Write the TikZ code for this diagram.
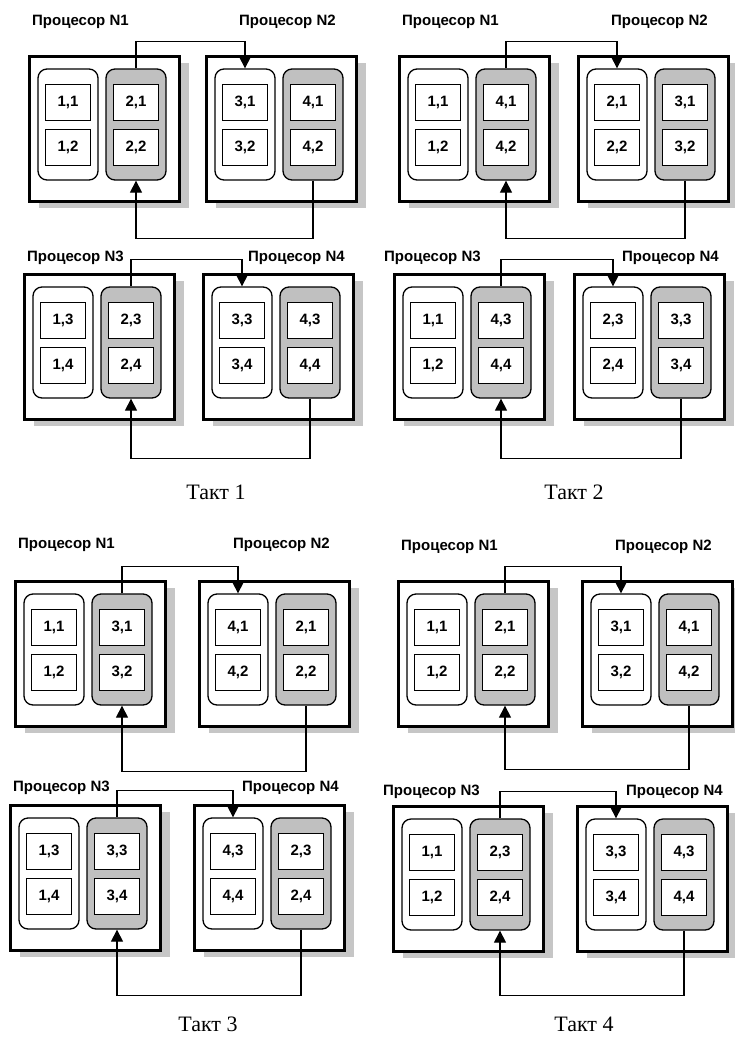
\documentclass[tikz,border=0pt]{standalone}
\usepackage{fontspec}
\setmainfont{Liberation Serif}
\setsansfont{Liberation Sans}
\usetikzlibrary{arrows.meta}
\definecolor{blockgrey}{RGB}{192,192,192}
\definecolor{shadegrey}{RGB}{198,198,198}

\begin{document}
\begin{tikzpicture}[x=1pt,y=-1pt,
proc/.style = {draw,line width=2.8pt,fill=white,anchor=north west,inner sep=0pt,
        minimum width=150pt,minimum height=145pt},
memw/.style = {draw,line width=1.3pt,fill=white,rounded corners=9pt,inner sep=0pt,
        minimum width=60pt,minimum height=111pt},
memg/.style = {memw,fill=blockgrey},
cell/.style = {draw,line width=0.7pt,fill=white,inner sep=0pt,
        minimum width=45pt,minimum height=36pt,
        font=\sffamily\bfseries\fontsize{15}{18}\selectfont},
title/.style = {anchor=west,inner sep=0pt,font=\sffamily\bfseries\fontsize{15}{18}\selectfont},
tact/.style = {inner sep=0pt,font=\fontsize{22}{26}\selectfont},
link/.style = {line width=1.2pt,-{Triangle[width=12pt,length=12pt]}}]

        \useasboundingbox (0,0) rectangle (734,1039);

        % processors: name / corner / white column / grey column
        \foreach \nm/\x/\y/\wa/\wb/\ga/\gb in {
                p1n1/28/55/{1,1}/{1,2}/{2,1}/{2,2},
                p1n2/205/55/{3,1}/{3,2}/{4,1}/{4,2},
                p1n3/23/273/{1,3}/{1,4}/{2,3}/{2,4},
                p1n4/202/273/{3,3}/{3,4}/{4,3}/{4,4},
                p2n1/398/55/{1,1}/{1,2}/{4,1}/{4,2},
                p2n2/577/55/{2,1}/{2,2}/{3,1}/{3,2},
                p2n3/393/273/{1,1}/{1,2}/{4,3}/{4,4},
                p2n4/573/273/{2,3}/{2,4}/{3,3}/{3,4},
                p3n1/14/580/{1,1}/{1,2}/{3,1}/{3,2},
                p3n2/198/580/{4,1}/{4,2}/{2,1}/{2,2},
                p3n3/9/804/{1,3}/{1,4}/{3,3}/{3,4},
                p3n4/193/804/{4,3}/{4,4}/{2,3}/{2,4},
                p4n1/397/580/{1,1}/{1,2}/{2,1}/{2,2},
                p4n2/581/580/{3,1}/{3,2}/{4,1}/{4,2},
                p4n3/392/805/{1,1}/{1,2}/{2,3}/{2,4},
                p4n4/576/805/{3,3}/{3,4}/{4,3}/{4,4}}{
        \fill[shadegrey] (\x+11,\y+8) rectangle ++(150,145);
        \node[proc] (\nm) at (\x,\y) {};
        \node[memw] (\nm-w) at (\x+40,\y+69.5) {};
        \node[memg] (\nm-g) at (\x+108,\y+69.5) {};
        \node[cell] (\nm-wa) at (\x+40,\y+47) {\wa};
        \node[cell] (\nm-wb) at (\x+40,\y+92) {\wb};
        \node[cell] (\nm-ga) at (\x+108,\y+47) {\ga};
        \node[cell] (\nm-gb) at (\x+108,\y+92) {\gb};
        }

        \foreach \nm/\x/\y/\k in {p1n1/32/22/1, p1n2/239/22/2, p1n3/27/258/3, p1n4/248/258/4,
                p2n1/402/22/1, p2n2/611/22/2, p2n3/384/258/3, p2n4/622/258/4,
                p3n1/18/545/1, p3n2/233/545/2, p3n3/13/788/3, p3n4/242/788/4,
                p4n1/401/547/1, p4n2/615/547/2, p4n3/383/792/3, p4n4/626/792/4}
        \node[title] (\nm-t) at (\x,\y) {Процесор N\k};

        % ring shifts
        \foreach \pa/\pb/\dn in {p1n1/p1n2/58, p1n3/p1n4/60, p2n1/p2n2/58, p2n3/p2n4/60,
                p3n1/p3n2/66, p3n3/p3n4/66, p4n1/p4n2/64, p4n3/p4n4/65}{
        \draw[link] (\pa-g.north) -- ++(0,-27) -| (\pb-w.north);
        \draw[link] (\pb-g.south) -- ++(0,\dn) -| (\pa-g.south);
        }

        \node[tact] (tact1) at (216,492) {Такт 1};
        \node[tact] (tact2) at (574,492) {Такт 2};
        \node[tact] (tact3) at (208,1024) {Такт 3};
        \node[tact] (tact4) at (584,1024) {Такт 4};

    \end{tikzpicture}
\end{document}
